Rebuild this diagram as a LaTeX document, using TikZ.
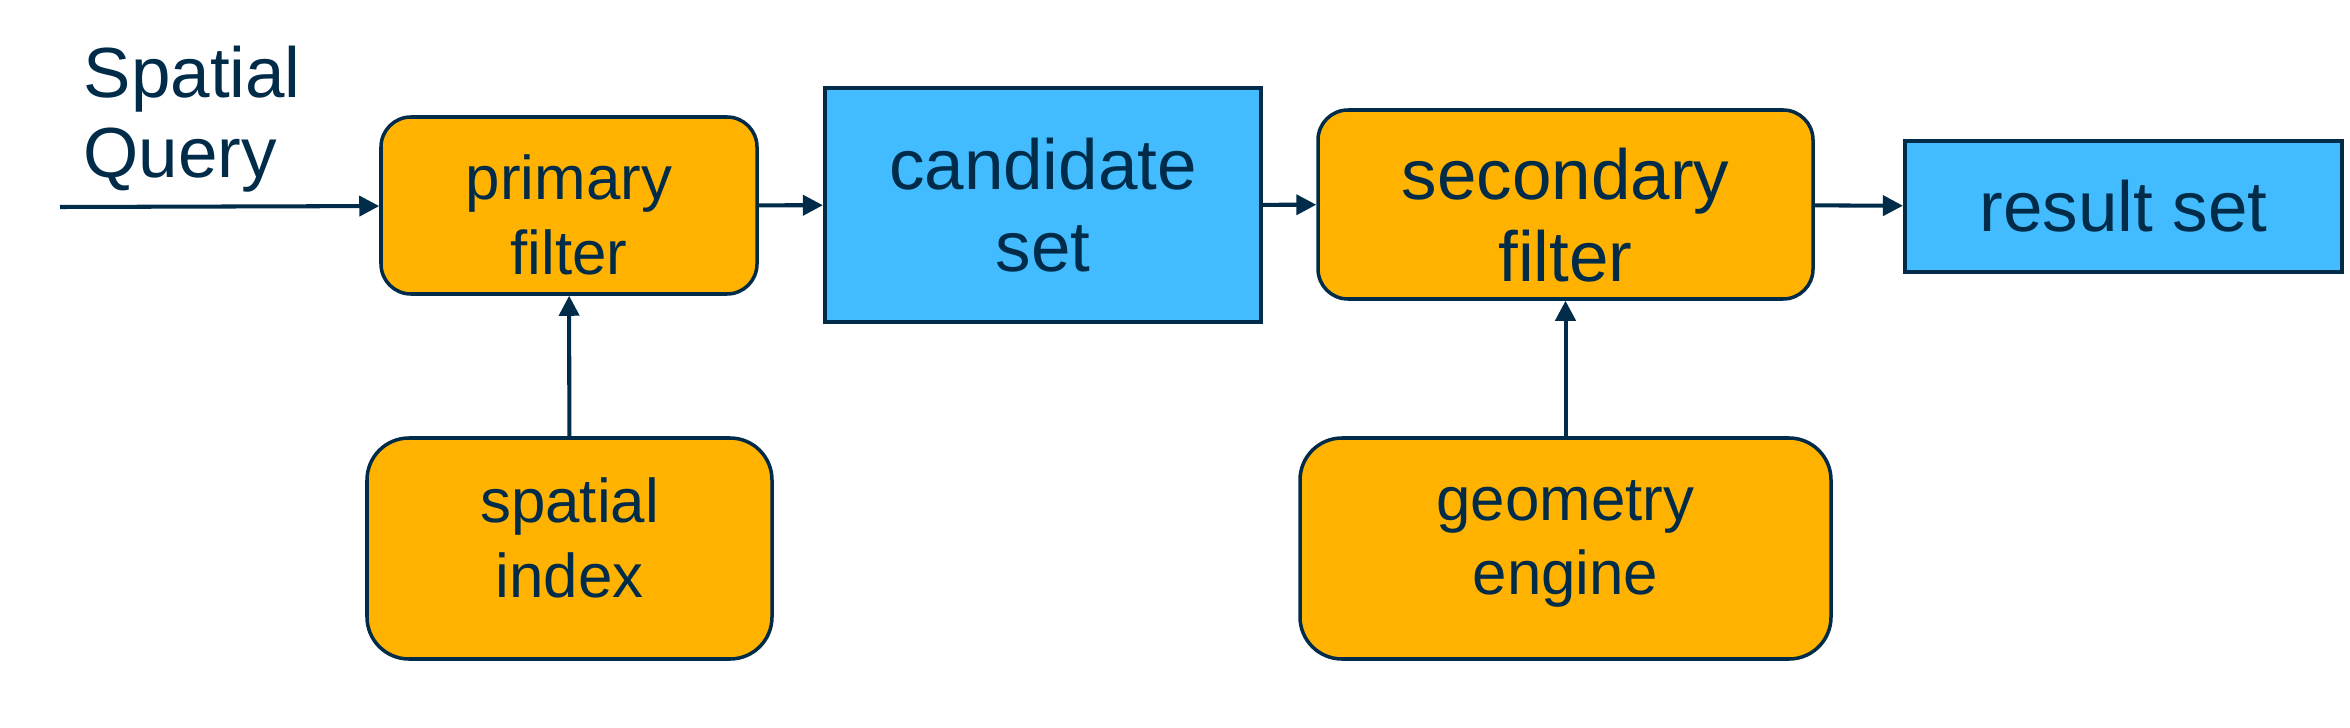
\documentclass[tikz,border=0pt]{standalone}
\usepackage{fontspec}
\setmainfont{Liberation Sans}
\usetikzlibrary{arrows.meta}
\definecolor{navy}{RGB}{0,43,73}
\definecolor{amber}{RGB}{255,179,0}
\definecolor{sky}{RGB}{66,188,255}
% extra room above the first line / below the last line of a box text
\newcommand\topgap[1]{\rule{0pt}{#1}}
\newcommand\botgap[1]{\rule[-#1]{0pt}{0pt}}
\tikzset{
  box/.style={draw=navy, text=navy, align=center, inner sep=0pt,
    font=\fontsize{20.2pt}{23.3pt}\selectfont},
  smalltext/.style={font=\fontsize{17.6pt}{21.3pt}\selectfont},
  filterbox/.style={box, fill=amber, line width=1pt, rounded corners=0.3cm},
  helperbox/.style={box, smalltext, fill=amber, line width=1pt,
    rounded corners=0.42cm},
  setbox/.style={box, fill=sky, line width=1.2pt},
  flow/.style={draw=navy, line width=1.15pt,
    -{Triangle[length=0.2cm,width=0.2cm]}},
}

\begin{document}
\begin{tikzpicture}
  \useasboundingbox (0,0) rectangle (23.5,7.27);
  % top row
  \node[filterbox, smalltext, minimum width=3.76cm, minimum height=1.77cm] (primary) at (5.69,5.215) {\topgap{0.64cm}primary\\filter};
  \node[setbox, minimum width=4.36cm, minimum height=2.34cm] (candidate) at (10.43,5.22) {candidate\\set};
  \node[filterbox, minimum width=4.95cm, minimum height=1.89cm] (secondary) at (15.655,5.225) {\topgap{0.73cm}secondary\\filter};
  \node[setbox, minimum width=4.37cm, minimum height=1.31cm] (result) at (21.235,5.205) {result set};
  % helpers below
  \node[helperbox, minimum width=4.05cm, minimum height=2.21cm] (index) at (5.695,1.785) {spatial\\index\botgap{0.22cm}};
  \node[helperbox, minimum width=5.31cm, minimum height=2.21cm] (engine) at (15.655,1.785) {geometry\\engine\botgap{0.22cm}};
  % input
  \node[text=navy, align=left, inner sep=0pt, anchor=north west,
    font=\fontsize{20.2pt}{23pt}\selectfont] (query) at (0.83,6.82) {Spatial\\Query};
  \coordinate (start) at (0.6,5.2);

  \draw[flow] (start) -- (primary);
  \draw[flow] (primary) -- (candidate);
  \draw[flow] (candidate) -- (secondary);
  \draw[flow] (secondary) -- (result);
  \draw[flow] (index) -- (primary);
  \draw[flow] (engine) -- (secondary);
\end{tikzpicture}
\end{document}
